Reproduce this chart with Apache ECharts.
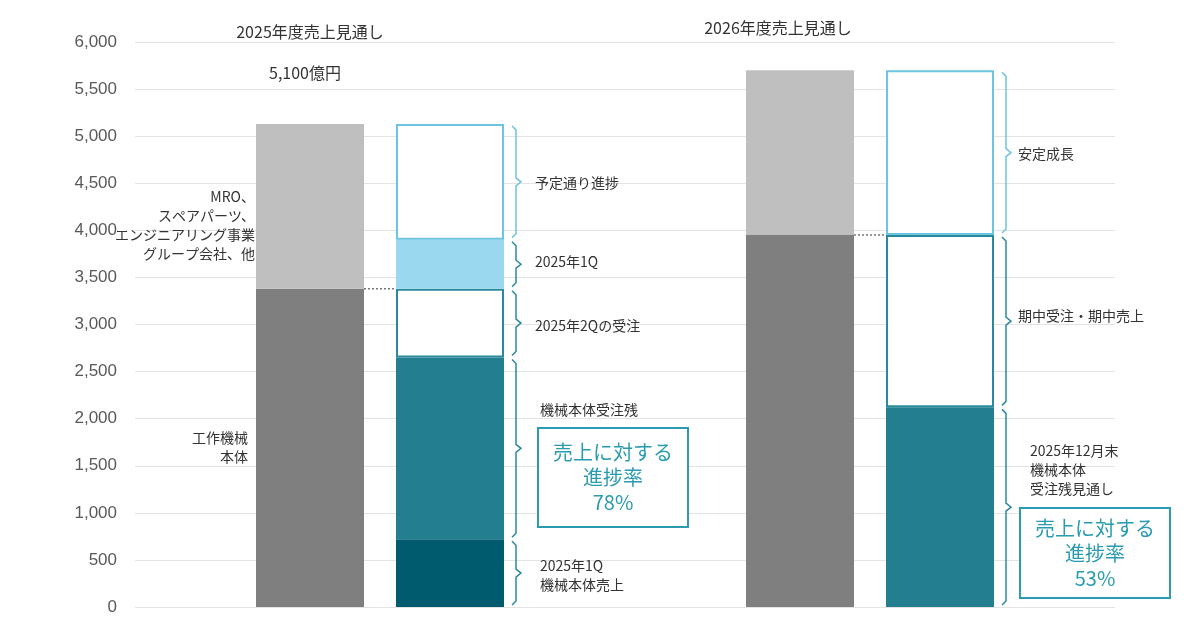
<!DOCTYPE html><html><head><meta charset="utf-8">
<script src="https://cdn.jsdelivr.net/npm/echarts@6/dist/echarts.min.js"></script>
<style>body{margin:0;background:#fff}#c{width:1200px;height:628px}</style></head><body><div id="c"></div>
<script>
const slots = ['s0','s1','b1','s3','b2','s5','s6','s7','s8','b3','s10','b4','s12','s13'];
const yTicks = [0,500,1000,1500,2000,2500,3000,3500,4000,4500,5000,5500,6000];
// segment values per bar [b1,b2,b3,b4]
const darkGray  = [3380, null, 3950, null];
const lightGray = [1750, null, 1750, null];
const q1Sales   = [null, 720, null, null];
const backlog   = [null, 1930, null, 2120];
const orders    = [null, 730, null, 1830];
const q1Orders  = [null, 520, null, null];
const planned   = [null, 1230, null, 1750];
const barIdx = {b1:2,b2:4,b3:9,b4:11};
function row(a){const r=slots.map(()=>null);['b1','b2','b3','b4'].forEach((k,i)=>{r[barIdx[k]]=a[i];});return r;}
const chart = echarts.init(document.getElementById('c'));
const F = '"Noto Sans CJK JP","Noto Sans",sans-serif';
function seg(name,data,color,border){return {name,type:'bar',stack:'s',barWidth:108,data:row(data),
  itemStyle:{color,borderColor:border||color,borderWidth:border?2:0},z:2};}
chart.setOption({
  animation:false,
  grid:{left:135,top:42,width:980,bottom:21},
  xAxis:{type:'category',data:slots,axisLine:{show:false},axisTick:{show:false},axisLabel:{show:false}},
  yAxis:{type:'value',min:0,max:6000,interval:500,axisLine:{show:false},
    axisLabel:{color:'#595959',fontSize:17,fontFamily:'Liberation Sans, Arial',margin:18,formatter:v=>v.toLocaleString('en-US')},
    splitLine:{lineStyle:{color:'#e3e3e3'}}},
  series:[
    seg('dg',darkGray,'#7f7f7f'),seg('lg',lightGray,'#bfbfbf'),
    seg('q1s',q1Sales,'#005b6e'),seg('bl',backlog,'#237f8f'),
    seg('or',orders,'#ffffff','#2a8a9c'),seg('q1o',q1Orders,'#9ad8ef'),
    seg('pl',planned,'#ffffff','#6cc4e0')
  ]
});
function P(i,v){return chart.convertToPixel({xAxisIndex:0,yAxisIndex:0},[i,v]);}
const g=[];
function text(x,y,t,o){g.push(Object.assign({type:'text',x,y,style:Object.assign({text:t,fill:'#333',font:'14px '+F,textVerticalAlign:'middle',lineHeight:19},o||{})}));}
function brace(x,v1,v2,color){const a=P(0,v1)[1]+2,b=P(0,v2)[1]-2,m=(a+b)/2;
  g.push({type:'polyline',shape:{points:[[x,a],[x+4,a+4],[x+4,m-4],[x+9,m],[x+4,m+4],[x+4,b-4],[x,b]]},style:{stroke:color,lineWidth:1.5,fill:null}});}
function dotted(i1,i2,v){const a=P(i1,v),b=P(i2,v);g.push({type:'line',shape:{x1:a[0]+54,y1:a[1],x2:b[0]-54,y2:b[1]},style:{stroke:'#777',lineDash:[2,2],lineWidth:1.5},z:5});}
dotted(2,4,3380);dotted(9,11,3950);
const bx2=P(4,0)[0]+62, bx4=P(11,0)[0]+62;
const c1=3380+1750, c2=720+1930+730+520+1230;
brace(bx2,c2,3900,'#6cc4e0');brace(bx2,3900,3380,'#2a8a9c');brace(bx2,3380,2650,'#2a8a9c');brace(bx2,2650,720,'#2a8a9c');brace(bx2,720,0,'#2a8a9c');
brace(bx4,5700,3950,'#6cc4e0');brace(bx4,3950,2120,'#2a8a9c');brace(bx4,2120,0,'#2a8a9c');
text(310,32,'2025年度売上見通し',{font:'16px '+F,textAlign:'center'});
text(305,73,'5,100億円',{font:'16px '+F,textAlign:'center'});
text(778,28,'2026年度売上見通し',{font:'16px '+F,textAlign:'center'});
text(255,225,'MRO、\nスペアパーツ、\nエンジニアリング事業\nグループ会社、他',{textAlign:'right'});
text(248,447,'工作機械\n本体',{textAlign:'right'});
text(535,183,'予定通り進捗');text(535,262,'2025年1Q');text(535,326,'2025年2Qの受注');text(540,410,'機械本体受注残');
text(540,575,'2025年1Q\n機械本体売上');
text(1018,154,'安定成長');text(1018,316,'期中受注・期中売上');text(1030,470,'2025年12月末\n機械本体\n受注残見通し');
function box(x,y,w,h,t){g.push({type:'rect',shape:{x,y,width:w,height:h},style:{fill:'#fff',stroke:'#2a9bb0',lineWidth:2}});
  text(x+w/2,y+h/2,t,{fill:'#2a9bb0',font:'20px '+F,textAlign:'center',lineHeight:25});}
box(538,428,150,99,'売上に対する\n進捗率\n78%');box(1020,508,150,90,'売上に対する\n進捗率\n53%');
chart.setOption({graphic:g});
</script></body></html>
